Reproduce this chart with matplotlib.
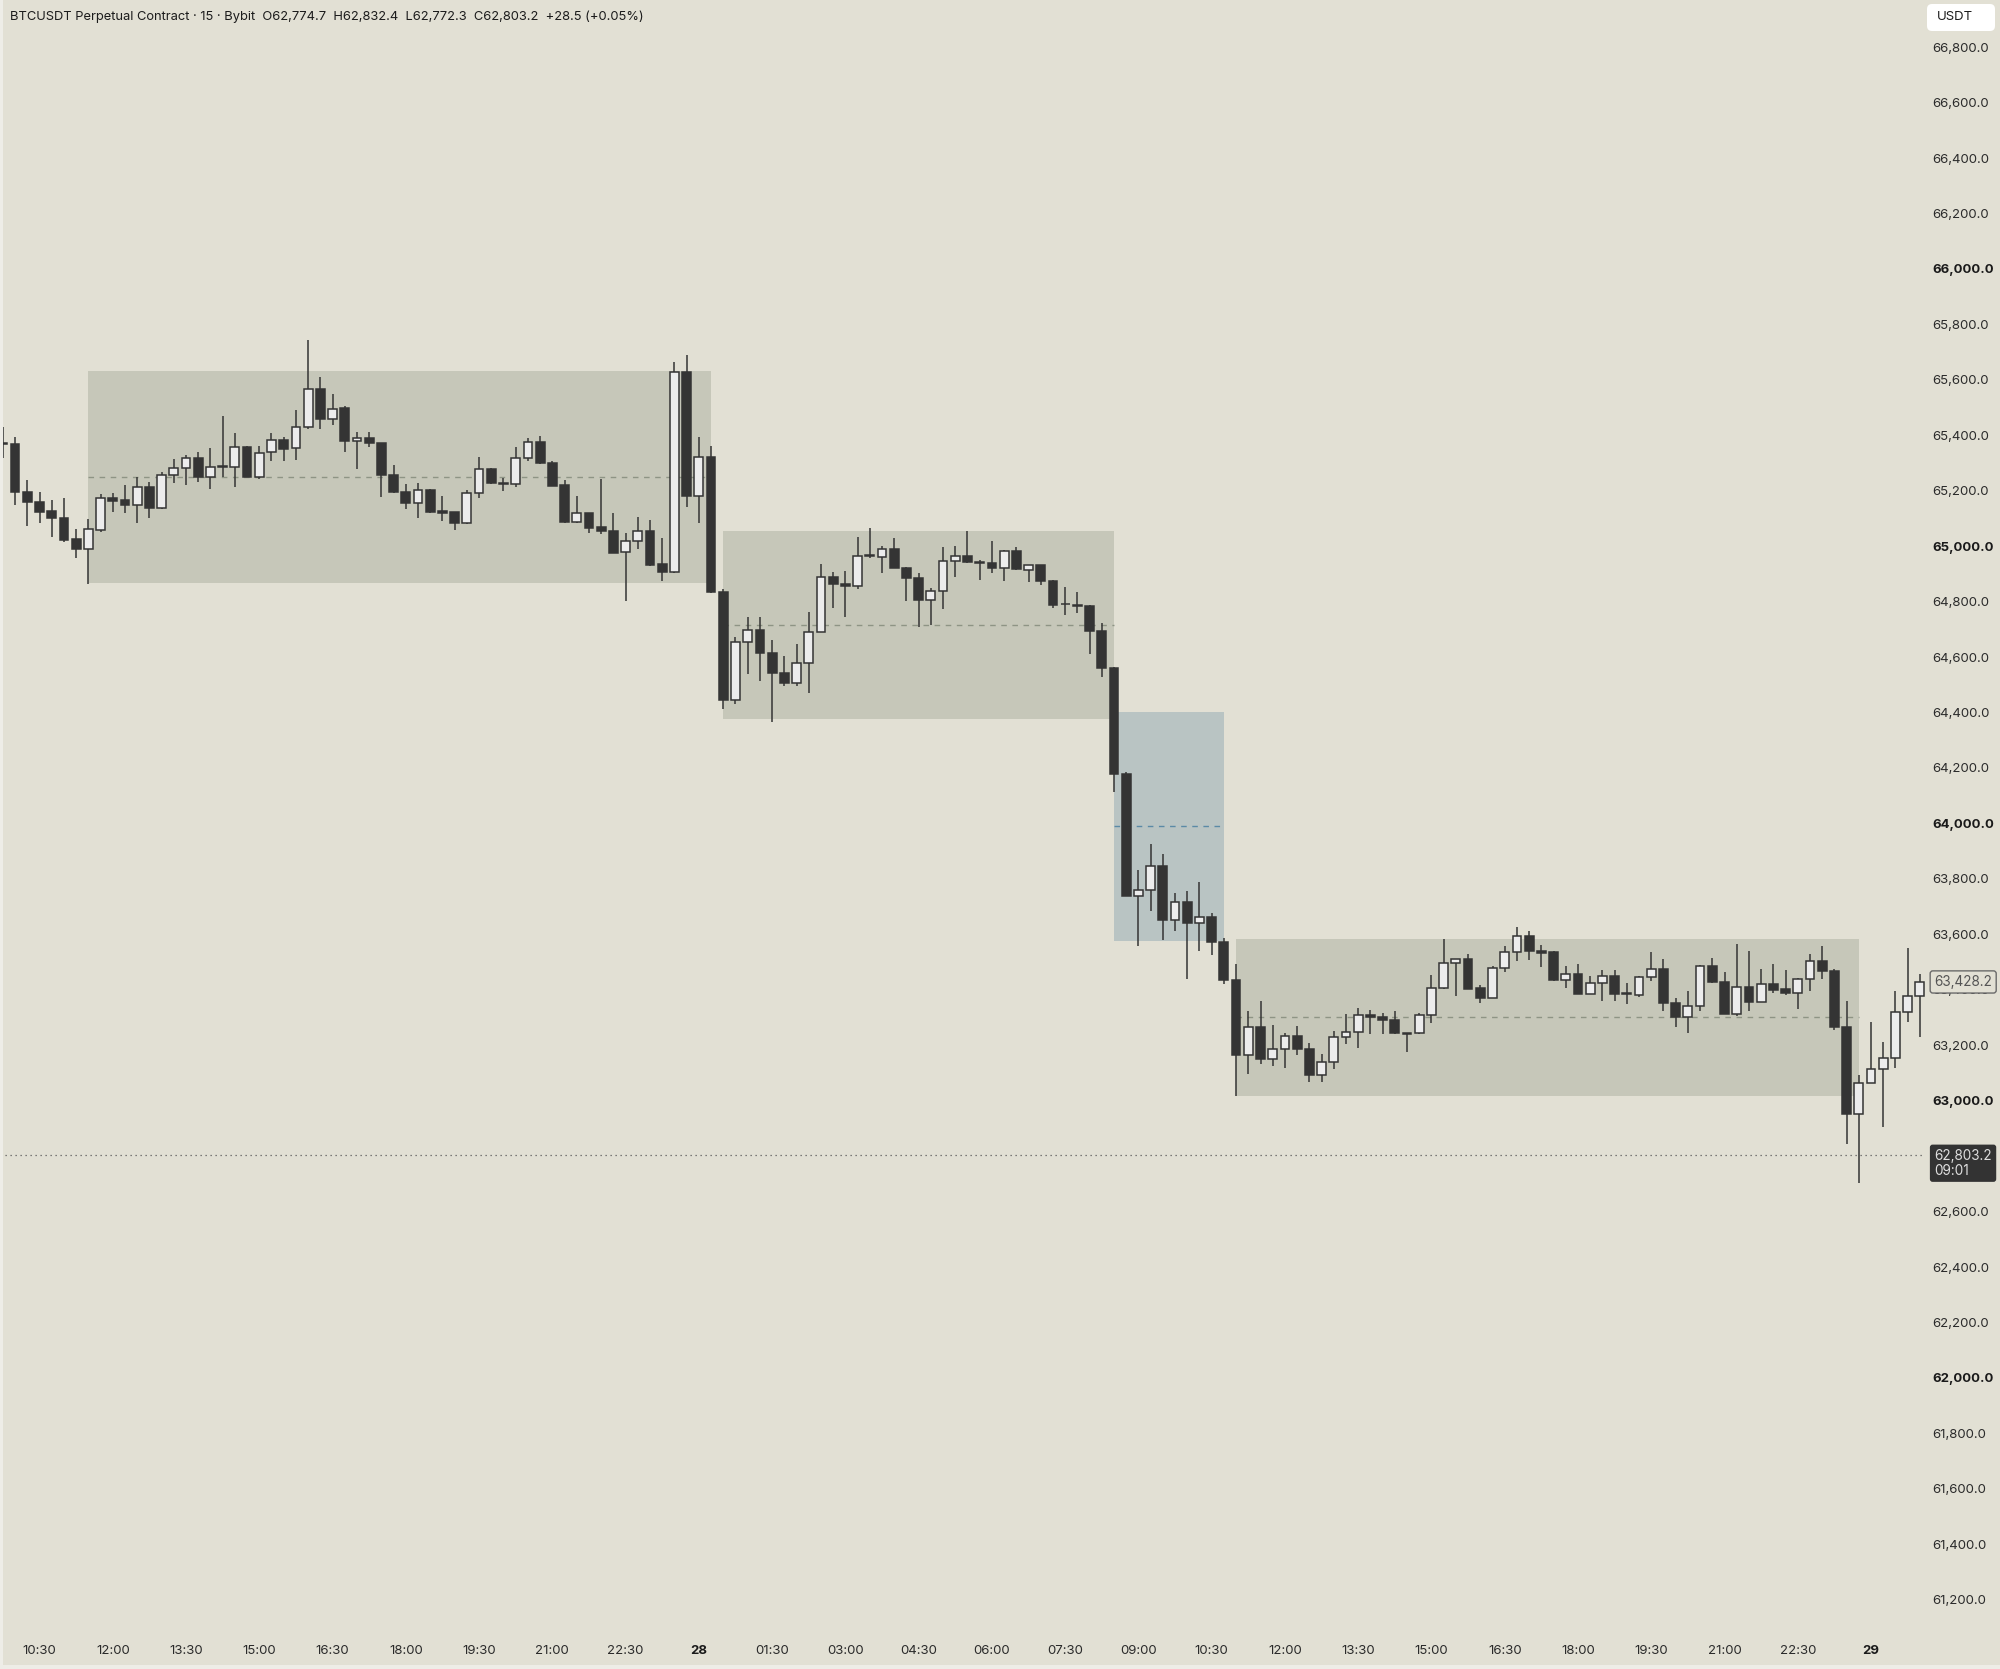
import matplotlib
matplotlib.use("Agg")
import matplotlib.pyplot as plt
import matplotlib.transforms as mtransforms
from matplotlib.patches import Rectangle, FancyBboxPatch

plt.rcParams["font.family"] = ["Inter", "DejaVu Sans"]

# 15 minute bars, bar 0 = 10:30 on the 27th
first_bar = -3
opens = [65372, 65369, 65197, 65161, 65127, 65103, 65025, 64989, 65059, 65173,
         65166, 65149, 65213, 65137, 65255, 65283, 65317, 65251, 65287, 65287,
         65359, 65251, 65338, 65383, 65353, 65431, 65566, 65458, 65497, 65380,
         65389, 65371, 65255, 65194, 65157, 65203, 65127, 65122, 65083, 65193,
         65277, 65227, 65223, 65317, 65375, 65301, 65221, 65086, 65119, 65068,
         65056, 64978, 65017, 65056, 64935, 64906, 65630, 65181, 65322, 64834,
         64445, 64653, 64697, 64614, 64544, 64505, 64580, 64692, 64888, 64864,
         64857, 64966, 64962, 64990, 64923, 64884, 64806, 64840, 64947, 64966,
         64942, 64938, 64923, 64983, 64914, 64931, 64876, 64792, 64788, 64786,
         64695, 64560, 64178, 63740, 63760, 63847, 63650, 63718, 63642, 63664,
         63574, 63435, 63163, 63267, 63150, 63187, 63233, 63186, 63093, 63138,
         63229, 63247, 63309, 63303, 63291, 63243, 63243, 63309, 63405, 63498,
         63510, 63405, 63372, 63480, 63535, 63594, 63541, 63535, 63435, 63456,
         63385, 63426, 63451, 63387, 63381, 63447, 63475, 63354, 63303, 63342,
         63487, 63429, 63313, 63409, 63357, 63421, 63402, 63387, 63439, 63502,
         63468, 63267, 62952, 63065, 63114, 63153, 63319, 63378]
highs = [65431, 65393, 65237, 65197, 65167, 65175, 65061, 65097, 65188, 65191,
         65221, 65249, 65233, 65267, 65315, 65329, 65339, 65354, 65471, 65407,
         65361, 65363, 65407, 65395, 65491, 65744, 65612, 65549, 65506, 65413,
         65413, 65373, 65294, 65225, 65227, 65205, 65182, 65124, 65203, 65320,
         65281, 65247, 65359, 65389, 65399, 65307, 65237, 65182, 65121, 65241,
         65121, 65047, 65104, 65095, 65029, 65666, 65690, 65395, 65362, 64845,
         64674, 64746, 64746, 64662, 64604, 64647, 64764, 64936, 64908, 64912,
         65034, 65065, 65001, 65029, 64925, 64902, 64848, 64998, 65002, 65054,
         64950, 65019, 64985, 64998, 64933, 64933, 64878, 64854, 64836, 64788,
         64724, 64566, 64187, 63832, 63926, 63890, 63750, 63758, 63788, 63676,
         63586, 63492, 63324, 63360, 63273, 63245, 63269, 63207, 63167, 63253,
         63312, 63333, 63327, 63315, 63324, 63244, 63318, 63453, 63582, 63512,
         63528, 63417, 63484, 63558, 63625, 63613, 63562, 63541, 63484, 63492,
         63450, 63471, 63471, 63426, 63449, 63538, 63511, 63369, 63396, 63489,
         63516, 63465, 63564, 63541, 63475, 63492, 63471, 63441, 63528, 63558,
         63474, 63360, 63093, 63282, 63213, 63397, 63550, 63456]
lows = [65317, 65149, 65073, 65083, 65032, 65014, 64959, 64863, 65050, 65125,
        65119, 65083, 65101, 65134, 65229, 65221, 65233, 65207, 65251, 65215,
        65249, 65243, 65309, 65309, 65311, 65422, 65422, 65437, 65341, 65277,
        65356, 65179, 65192, 65133, 65101, 65121, 65092, 65059, 65081, 65175,
        65225, 65199, 65215, 65307, 65295, 65216, 65084, 65084, 65047, 65044,
        64974, 64804, 64989, 64930, 64876, 64904, 65143, 65085, 64831, 64412,
        64431, 64539, 64515, 64367, 64496, 64496, 64472, 64690, 64776, 64746,
        64845, 64956, 64905, 64921, 64804, 64707, 64716, 64772, 64890, 64938,
        64878, 64902, 64876, 64915, 64870, 64860, 64776, 64750, 64758, 64611,
        64529, 64115, 63738, 63559, 63684, 63580, 63613, 63438, 63540, 63526,
        63420, 63018, 63095, 63131, 63126, 63119, 63165, 63069, 63069, 63114,
        63204, 63191, 63239, 63239, 63241, 63177, 63241, 63279, 63403, 63379,
        63401, 63351, 63370, 63465, 63504, 63507, 63481, 63432, 63405, 63383,
        63383, 63360, 63361, 63349, 63373, 63432, 63324, 63267, 63243, 63325,
        63425, 63311, 63307, 63325, 63355, 63387, 63381, 63330, 63396, 63439,
        63255, 62844, 62702, 63063, 62906, 63117, 63285, 63231]
closes = [65369, 65194, 65161, 65125, 65101, 65023, 64989, 65061, 65173, 65164,
          65149, 65213, 65137, 65255, 65283, 65317, 65251, 65287, 65288, 65359,
          65251, 65335, 65383, 65352, 65429, 65566, 65458, 65495, 65380, 65389,
          65371, 65255, 65194, 65157, 65203, 65125, 65121, 65083, 65193, 65277,
          65227, 65226, 65317, 65375, 65299, 65218, 65086, 65119, 65067, 65055,
          64977, 65017, 65056, 64932, 64906, 65630, 65181, 65321, 64833, 64445,
          64653, 64697, 64614, 64544, 64505, 64580, 64692, 64888, 64864, 64857,
          64966, 64968, 64990, 64923, 64884, 64806, 64840, 64947, 64966, 64942,
          64938, 64923, 64983, 64917, 64931, 64876, 64788, 64790, 64786, 64695,
          64560, 64177, 63740, 63760, 63847, 63650, 63718, 63642, 63664, 63571,
          63435, 63163, 63267, 63150, 63187, 63233, 63185, 63093, 63138, 63229,
          63247, 63309, 63303, 63291, 63243, 63241, 63309, 63405, 63498, 63510,
          63403, 63372, 63480, 63535, 63594, 63540, 63534, 63435, 63456, 63385,
          63426, 63451, 63385, 63386, 63447, 63474, 63354, 63303, 63342, 63487,
          63427, 63313, 63409, 63357, 63421, 63399, 63390, 63439, 63502, 63468,
          63267, 62952, 63065, 63114, 63153, 63319, 63378, 63428.2]

# session range boxes
box_start = [4, 56, 88, 98]
box_end = [55, 88, 97, 149]
box_top = [65631, 65056, 64403, 63584]
box_bottom = [64868, 64375, 63575, 63018]
box_fill = ["#c6c7b9", "#c6c7b9", "#b9c4c3", "#c6c7b9"]
box_mid = ["#8e9485", "#8e9485", "#5b8aa6", "#8e9485"]

time_ticks = list(range(0, 151, 6))
time_labels = ["10:30", "12:00", "13:30", "15:00", "16:30", "18:00", "19:30", "21:00",
               "22:30", "28", "01:30", "03:00", "04:30", "06:00", "07:30", "09:00",
               "10:30", "12:00", "13:30", "15:00", "16:30", "18:00", "19:30", "21:00",
               "22:30", "29"]
price_ticks = list(range(61200, 66801, 200))

symbol = "BTCUSDT Perpetual Contract · 15 · Bybit"
hdr_open, hdr_high, hdr_low, hdr_close = 62774.7, 62832.4, 62772.3, 62803.2
hdr_change, hdr_pct = 28.5, 0.05
countdown = "09:01"

bg = "#e2e0d4"
dark = "#343434"
light = "#ececec"

fig = plt.figure(figsize=(20, 16.69), dpi=100, facecolor=bg)
ax = fig.add_axes([0, 41 / 1669, 1925 / 2000, 1 - 41 / 1669])
ax.set_facecolor(bg)
for s in ax.spines.values():
    s.set_visible(False)

for x0, x1, top, bot, fc, mc in zip(box_start, box_end, box_top, box_bottom, box_fill, box_mid):
    ax.add_patch(Rectangle((x0, bot), x1 - x0, top - bot, facecolor=fc, edgecolor="none", zorder=1))
    ax.hlines((top + bot) / 2, x0, x1, colors=mc, linestyles=(0, (4, 4)), linewidth=1.0, zorder=2)

idx = list(range(first_bar, first_bar + len(opens)))
ax.vlines(idx, lows, highs, colors=dark, linewidth=1.1, zorder=3)
bottoms = [min(o, c) for o, c in zip(opens, closes)]
heights = [abs(c - o) for o, c in zip(opens, closes)]
colors = [light if c >= o else dark for o, c in zip(opens, closes)]
ax.bar(idx, heights, bottom=bottoms, width=0.72, color=colors, edgecolor=dark,
       linewidth=1.1, zorder=4)

# last price line
ax.axhline(hdr_close, color="#5a5a5a", linestyle=(0, (1, 3)), linewidth=0.9, zorder=5)

ax.set_xlim(-3.235, 154.42)
ax.set_ylim(61098, 66970)

# the 62,800 label sits under the last price tag, as in the original
ax.yaxis.tick_right()
ax.set_yticks(price_ticks, labels=["" if p == 62800 else f"{p:,.1f}" for p in price_ticks])
ax.tick_params(axis="y", length=0, pad=5, labelsize=9.5, labelcolor="#2b2b2b")
for lab, p in zip(ax.get_yticklabels(), price_ticks):
    if p % 1000 == 0:
        lab.set_fontweight("bold")
        lab.set_color("#1a1a1a")

ax.set_xticks(time_ticks, labels=time_labels)
ax.tick_params(axis="x", length=0, pad=12, labelsize=9.5, labelcolor="#2b2b2b")
for lab in ax.get_xticklabels():
    if ":" not in lab.get_text():
        lab.set_fontweight("bold")
        lab.set_color("#1a1a1a")

ytr = ax.get_yaxis_transform()
ax.text(1.0048, closes[-1], f"{closes[-1]:,.1f}", transform=ytr, ha="left", va="center",
        fontsize=9.8, color="#555555", zorder=8, clip_on=False,
        bbox=dict(boxstyle="round,pad=0.3,rounding_size=0.2", facecolor=bg, edgecolor="#6a6a6a", linewidth=1.0))
off = mtransforms.offset_copy(ytr, fig=fig, x=0, y=-8, units="dots")
ax.text(1.0048, hdr_close, f"{hdr_close:,.1f}\n{countdown}", transform=off, ha="left", va="center",
        fontsize=9.8, color="#dedede", zorder=8, clip_on=False, linespacing=1.05,
        bbox=dict(boxstyle="round,pad=0.32,rounding_size=0.2", facecolor="#333333", edgecolor="none"))

fig.text(10 / 2000, 1 - 16.7 / 1669,
         f"{symbol}  O{hdr_open:,.1f}  H{hdr_high:,.1f}  L{hdr_low:,.1f}  C{hdr_close:,.1f}  "
         f"+{hdr_change} (+{hdr_pct:.2f}%)",
         ha="left", va="center", fontsize=9.3, color="#1c1c1c")

px = mtransforms.IdentityTransform()
fig.add_artist(FancyBboxPatch((1927, 1669 - 31), 68, 27, boxstyle="round,pad=0,rounding_size=5",
                              transform=px, facecolor="white", edgecolor="none", zorder=5))
fig.text(1937 / 2000, 1 - 17.5 / 1669, "USDT", ha="left", va="center", fontsize=9.5,
         color="#1c1c1c", zorder=6)

# window edges
fig.add_artist(Rectangle((0, 0), 3 / 2000, 1, transform=fig.transFigure, facecolor="#eeede7",
                         edgecolor="none", zorder=10))
fig.add_artist(Rectangle((0, 0), 1, 4 / 1669, transform=fig.transFigure, facecolor="#eeede7",
                         edgecolor="none", zorder=10))

fig.savefig("out.png", dpi=100, facecolor=bg)
